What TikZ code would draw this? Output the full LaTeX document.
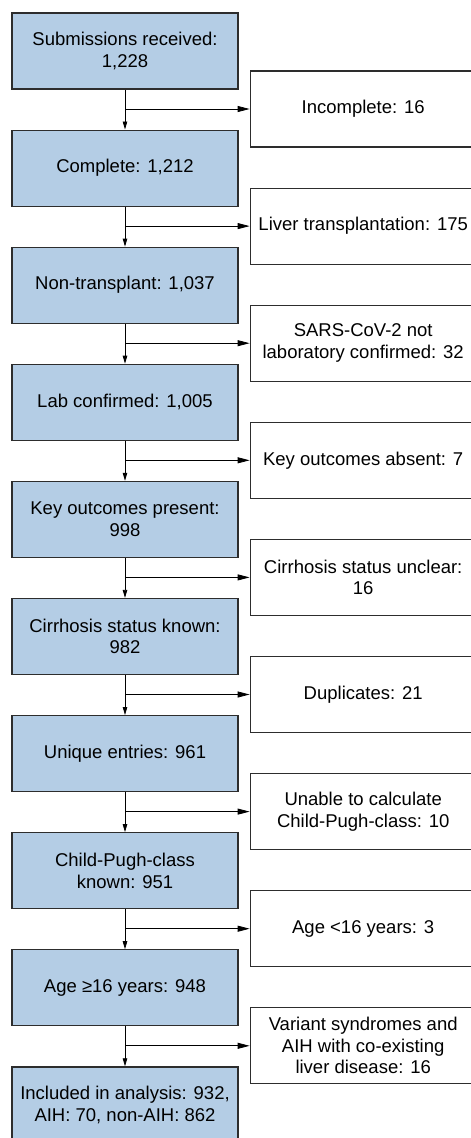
\documentclass[tikz,border=0pt]{standalone}
\usepackage{fontspec}
\setmainfont{Liberation Sans}
\usepackage{xcolor}
\usepackage{tikz}
\usetikzlibrary{positioning, shapes, arrows.meta}

\definecolor{stepblue}{RGB}{180,205,229}
\definecolor{edgegray}{RGB}{45,45,45}

\begin{document}
\begin{tikzpicture}[x=1pt, y=1pt, node distance=39.9pt,
    flowbox/.style={draw=edgegray, line width=1.2pt, fill=stepblue, rectangle, minimum width=226pt, minimum height=76pt, align=center, inner sep=2pt, font=\fontsize{18.5pt}{21.5pt}\selectfont},
    outbox/.style={draw=edgegray, line width=1.2pt, fill=white, rectangle, minimum width=226pt, minimum height=76pt, align=center, inner sep=2pt, font=\fontsize{18.5pt}{21.5pt}\selectfont},
    down/.style={-{Triangle[length=8pt, width=4.5pt]}, line width=0.8pt},
    side/.style={-{Triangle[length=12pt, width=6pt]}, line width=0.8pt}]

    \useasboundingbox (0,0) rectangle (471,-1138);

    % Main flow boxes
    \node[flowbox] (sub) at (125,-51) {Submissions received:\\1,228};
    \node[flowbox, below=of sub] (compl) {Complete: 1,212};
    \node[flowbox, below=of compl] (nontx) {Non-transplant: 1,037};
    \node[flowbox, below=of nontx] (labconf) {Lab confirmed: 1,005};
    \node[flowbox, below=of labconf] (keyout) {Key outcomes present:\\998};
    \node[flowbox, below=of keyout] (cirrh) {Cirrhosis status known:\\982};
    \node[flowbox, below=of cirrh] (uniq) {Unique entries: 961};
    \node[flowbox, below=of uniq] (cpc) {Child-Pugh-class\\known: 951};
    \node[flowbox, below=of cpc] (adult) {Age ≥16 years: 948};
    \node[flowbox, below=of adult] (incl) {Included in analysis: 932,\\AIH: 70, non-AIH: 862};

    % Excluded boxes
    \node[outbox, right=11pt of sub, yshift=-58pt] (incompl) {Incomplete: 16};
    \node[outbox, right=11pt of compl, yshift=-58pt] (ltx) {Liver transplantation: 175};
    \node[outbox, right=11pt of nontx, yshift=-58pt] (notlab) {SARS-CoV-2 not\\laboratory confirmed: 32};
    \node[outbox, right=11pt of labconf, yshift=-58pt] (keyabs) {Key outcomes absent: 7};
    \node[outbox, right=11pt of keyout, yshift=-58pt] (cirrunc) {Cirrhosis status unclear:\\16};
    \node[outbox, right=11pt of cirrh, yshift=-58pt] (dupl) {Duplicates: 21};
    \node[outbox, right=11pt of uniq, yshift=-58pt] (nocpc) {Unable to calculate\\Child-Pugh-class: 10};
    \node[outbox, right=11pt of cpc, yshift=-58pt] (young) {Age <16 years: 3};
    \node[outbox, right=11pt of adult, yshift=-58pt] (variant) {Variant syndromes and\\AIH with co-existing\\liver disease: 16};

    % Connections: main flow
    \draw[down] (sub) -- (compl);
    \draw[down] (compl) -- (nontx);
    \draw[down] (nontx) -- (labconf);
    \draw[down] (labconf) -- (keyout);
    \draw[down] (keyout) -- (cirrh);
    \draw[down] (cirrh) -- (uniq);
    \draw[down] (uniq) -- (cpc);
    \draw[down] (cpc) -- (adult);
    \draw[down] (adult) -- (incl);

    % Connections: exclusions
    \draw[side] (sub.south |- incompl) -- (incompl);
    \draw[side] (compl.south |- ltx) -- (ltx);
    \draw[side] (nontx.south |- notlab) -- (notlab);
    \draw[side] (labconf.south |- keyabs) -- (keyabs);
    \draw[side] (keyout.south |- cirrunc) -- (cirrunc);
    \draw[side] (cirrh.south |- dupl) -- (dupl);
    \draw[side] (uniq.south |- nocpc) -- (nocpc);
    \draw[side] (cpc.south |- young) -- (young);
    \draw[side] (adult.south |- variant) -- (variant);

\end{tikzpicture}
\end{document}
